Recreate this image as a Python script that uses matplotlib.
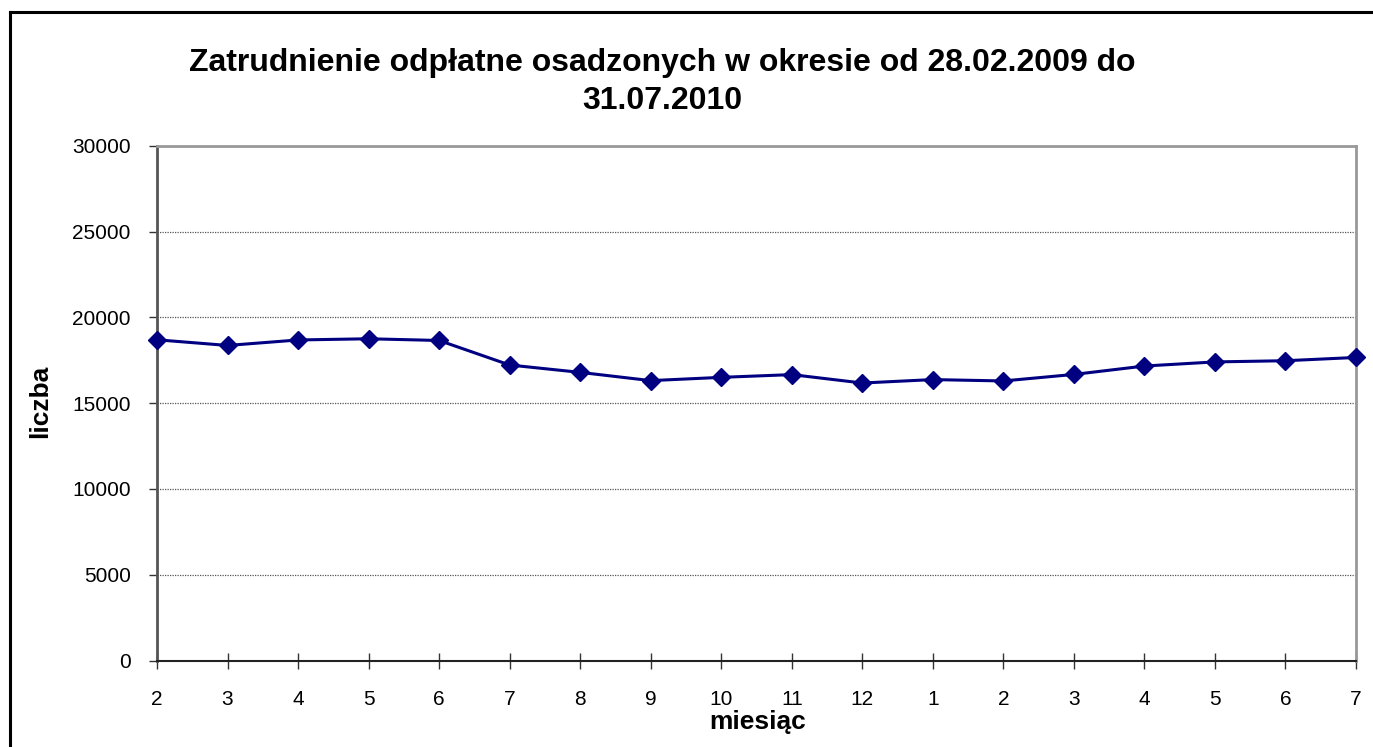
import matplotlib
matplotlib.use('Agg')
import matplotlib.pyplot as plt
from matplotlib.lines import Line2D

# miesiące od 02.2009 do 07.2010
months = ['2', '3', '4', '5', '6', '7', '8', '9', '10', '11', '12',
          '1', '2', '3', '4', '5', '6', '7']
employed = [18700, 18370, 18690, 18760, 18660, 17230, 16800, 16320, 16510,
            16670, 16180, 16380, 16300, 16680, 17170, 17410, 17480, 17670]
y_ticks = [0, 5000, 10000, 15000, 20000, 25000, 30000]

plt.rcParams['font.family'] = ['Liberation Sans', 'DejaVu Sans']

W, H = 1373, 747
fig = plt.figure(figsize=(W / 100, H / 100), dpi=100)
ax = fig.add_axes([157 / W, 1 - 660.5 / H, 1199 / W, 514.5 / H])

x = list(range(len(months)))
ax.plot(x, employed, color='#000080', linewidth=2.2, marker='D',
        markersize=9.5, markerfacecolor='#000080', markeredgecolor='#000080',
        zorder=3, clip_on=False)

ax.set_xlim(0, len(months) - 1)
ax.set_ylim(0, 30000)
ax.set_xticks(x)
ax.set_xticklabels(months)
ax.set_yticks(y_ticks)
ax.tick_params(axis='x', direction='inout', length=12, width=1, color='#333333',
               labelsize=15, pad=15)
ax.tick_params(axis='y', direction='out', length=6, width=1, color='#333333',
               labelsize=15, pad=13)

ax.yaxis.grid(True, linestyle=(0, (1, 1)), color='#555555', linewidth=0.9)
ax.set_axisbelow(True)

ax.spines['left'].set_color('#555555')
ax.spines['bottom'].set_color('#222222')
ax.spines['top'].set_color('#999999')
ax.spines['right'].set_color('#999999')
for s in ax.spines.values():
    s.set_linewidth(2)
ax.spines['bottom'].set_linewidth(1.5)

# opisy osi
fig.text(758 / W, 1 - 722 / H, 'miesiąc', ha='center', va='center',
         fontsize=19, fontweight='bold')
fig.text(40 / W, 1 - 401 / H, 'liczba', ha='center', va='center',
         rotation=90, fontsize=19, fontweight='bold')

fig.text(662 / W, 1 - 82 / H,
         'Zatrudnienie odpłatne osadzonych w okresie od 28.02.2009 do\n31.07.2010',
         ha='center', va='center', fontsize=23, fontweight='bold', linespacing=1.35)

# ramka wykresu
fig.add_artist(Line2D([10 / W, 10 / W], [0, 1 - 12 / H], color='black',
                      linewidth=2.2, transform=fig.transFigure))
fig.add_artist(Line2D([10 / W, 1], [1 - 12 / H, 1 - 12 / H], color='black',
                      linewidth=2.2, transform=fig.transFigure))

fig.savefig('out.png', dpi=100, facecolor='white')
